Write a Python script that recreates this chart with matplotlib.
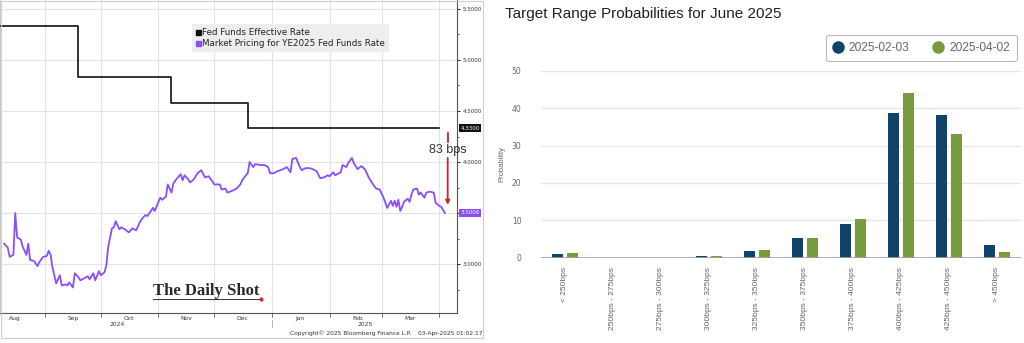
import numpy as np
import pandas as pd
import matplotlib
matplotlib.use("Agg")
import matplotlib.pyplot as plt
import matplotlib.dates as mdates
from matplotlib.ticker import MultipleLocator, NullFormatter, FormatStrFormatter
from matplotlib.lines import Line2D
from matplotlib.patches import Rectangle

# ---- left panel data (days counted from 2024-09-01) ----
base = pd.Timestamp("2024-09-01")
effr_days = [-24, 18, 68, 109, 212]
effr_rate = [5.33, 4.83, 4.58, 4.33, 4.33]

pricing_days = [
    -22, -20, -19, -17, -16, -15, -13, -12, -10, -9,
    -8, -6, -4, -3, -1, 1, 2, 3, 4, 6,
    8, 9, 11, 12, 13, 15, 16, 18, 19, 21,
    23, 24, 26, 27, 29, 30, 32, 33, 34, 36,
    37, 38, 40, 41, 43, 45, 47, 49, 51, 52,
    54, 55, 57, 58, 59, 61, 62, 63, 65, 66,
    68, 69, 71, 73, 74, 75, 77, 78, 80, 82,
    84, 86, 88, 90, 91, 94, 95, 97, 98, 101,
    103, 105, 106, 108, 109, 110, 112, 113, 116, 118,
    120, 121, 123, 125, 128, 130, 132, 133, 135, 137,
    138, 140, 142, 144, 146, 148, 150, 152, 153, 155,
    156, 159, 160, 162, 163, 165, 166, 168, 170, 172,
    174, 176, 178, 180, 182, 183, 184, 186, 187, 188,
    189, 190, 191, 192, 193, 195, 196, 197, 198, 200,
    201, 202, 204, 205, 207, 209, 210, 212, 213, 215,
]
pricing_rate = [
    3.20, 3.16, 3.07, 3.09, 3.50, 3.26, 3.24, 3.17, 3.09, 3.20,
    3.04, 3.03, 2.98, 3.02, 3.07, 3.08, 3.13, 3.09, 2.97, 2.81,
    2.89, 2.79, 2.80, 2.79, 2.82, 2.77, 2.91, 2.87, 2.84, 2.86,
    2.88, 2.85, 2.91, 2.84, 2.93, 2.89, 2.92, 2.99, 3.17, 3.35,
    3.36, 3.42, 3.34, 3.36, 3.34, 3.31, 3.35, 3.33, 3.41, 3.44,
    3.48, 3.47, 3.52, 3.55, 3.52, 3.61, 3.65, 3.63, 3.66, 3.78,
    3.70, 3.79, 3.84, 3.88, 3.82, 3.87, 3.83, 3.80, 3.83, 3.89,
    3.92, 3.85, 3.86, 3.81, 3.78, 3.78, 3.73, 3.74, 3.70, 3.72,
    3.74, 3.78, 3.82, 3.87, 3.89, 4.00, 3.95, 3.98, 3.97, 3.97,
    3.95, 3.89, 3.89, 3.91, 3.93, 3.95, 3.90, 4.03, 4.04, 3.95,
    3.92, 3.94, 3.94, 3.93, 3.91, 3.84, 3.85, 3.87, 3.86, 3.90,
    3.87, 3.90, 3.97, 3.95, 3.99, 4.04, 3.99, 3.93, 3.96, 3.93,
    3.85, 3.79, 3.74, 3.73, 3.65, 3.60, 3.55, 3.62, 3.57, 3.62,
    3.56, 3.63, 3.52, 3.56, 3.61, 3.64, 3.61, 3.68, 3.73, 3.74,
    3.68, 3.70, 3.65, 3.70, 3.71, 3.70, 3.60, 3.57, 3.56, 3.5006,
]

# ---- right panel data ----
ranges = ["< 250bps", "250bps - 275bps", "275bps - 300bps", "300bps - 325bps",
          "325bps - 350bps", "350bps - 375bps", "375bps - 400bps",
          "400bps - 425bps", "425bps - 450bps", "> 450bps"]
prob_feb = [1.0, 0.0, 0.0, 0.5, 1.7, 5.2, 9.0, 38.7, 38.2, 3.4]
prob_apr = [1.3, 0.0, 0.0, 0.5, 2.0, 5.2, 10.3, 44.0, 33.0, 1.6]

W, H = 1024, 343
def fx(px):
    return px / W
def fy(py):
    return 1 - py / H

PURPLE = "#8a4dff"
NAVY = "#0e4469"
OLIVE = "#7a9a3f"

fig = plt.figure(figsize=(W / 100, H / 100), dpi=100)

# ================= left panel =================
ax1 = fig.add_axes([0.0, fy(313), fx(457), 313 / H])
effr_dates = base + pd.to_timedelta(effr_days, unit="D")
pricing_dates = base + pd.to_timedelta(pricing_days, unit="D")

ax1.plot(effr_dates, effr_rate, drawstyle="steps-post", color="#111111", lw=1.2, zorder=3)
ax1.plot(pricing_dates, pricing_rate, color=PURPLE, lw=1.3, zorder=3)

ax1.set_xlim(base - pd.Timedelta(days=24.2), base + pd.Timedelta(days=221.5))
ax1.set_ylim(2.52, 5.588)

ax1.yaxis.tick_right()
ax1.yaxis.set_major_locator(MultipleLocator(0.5))
ax1.yaxis.set_minor_locator(MultipleLocator(0.25))
ax1.yaxis.set_major_formatter(FormatStrFormatter("%.4f"))
ax1.tick_params(axis="y", which="major", length=2.5, width=0.6, labelsize=4,
                labelcolor="#333333", pad=1.5)
ax1.tick_params(axis="y", which="minor", length=1.5, width=0.5)

ax1.xaxis.set_major_locator(mdates.MonthLocator())
ax1.xaxis.set_major_formatter(NullFormatter())
ax1.xaxis.set_minor_locator(mdates.MonthLocator(bymonthday=16))
ax1.xaxis.set_minor_formatter(mdates.DateFormatter("%b"))
ax1.tick_params(axis="x", which="major", length=3, width=0.6, color="#555555")
ax1.tick_params(axis="x", which="minor", length=0, labelsize=4.3,
                labelcolor="#333333", pad=2)

ax1.grid(True, which="major", color="#e2e2e2", lw=0.8, zorder=0)
ax1.spines["top"].set_visible(False)
ax1.spines["left"].set_color("#cccccc")
ax1.spines["right"].set_color("#555555")
ax1.spines["bottom"].set_color("#555555")
for s in ("right", "bottom"):
    ax1.spines[s].set_linewidth(0.8)

handles = [Line2D([], [], ls="none", marker="s", color="#111111", ms=3.6),
           Line2D([], [], ls="none", marker="s", color=PURPLE, ms=3.6)]
leg = ax1.legend(handles, ["Fed Funds Effective Rate",
                           "Market Pricing for YE2025 Fed Funds Rate"],
                 loc="upper left", bbox_to_anchor=(192 / 457, 1 - 24 / 313),
                 fontsize=6.3, frameon=True, facecolor="#eeeeee", edgecolor="none",
                 fancybox=False, framealpha=1, handlelength=0.5, handletextpad=0.2,
                 borderpad=0.45, labelspacing=0.2, borderaxespad=0)
for t in leg.get_texts():
    t.set_color("#222222")

# last-value tags
ax1.annotate(f"{effr_rate[-1]:.4f}", xy=(1.008, effr_rate[-1]),
             xycoords=("axes fraction", "data"), ha="left", va="center",
             fontsize=4, color="white",
             bbox=dict(boxstyle="square,pad=0.25", fc="#111111", ec="none"),
             annotation_clip=False, zorder=5)
ax1.annotate(f"{pricing_rate[-1]:.4f}", xy=(1.008, pricing_rate[-1]),
             xycoords=("axes fraction", "data"), ha="left", va="center",
             fontsize=4, color="white",
             bbox=dict(boxstyle="square,pad=0.25", fc=PURPLE, ec="none"),
             annotation_clip=False, zorder=5)

# gap arrow
gap_bps = round((effr_rate[-1] - pricing_rate[-1]) * 100)
arrow_x = base + pd.Timedelta(days=216.5)
ax1.plot([arrow_x, arrow_x], [effr_rate[-1] - 0.05, effr_rate[-1] - 0.13],
         color="#c62828", lw=1.3, zorder=4)
ax1.annotate("", xy=(arrow_x, pricing_rate[-1] + 0.08),
             xytext=(arrow_x, effr_rate[-1] - 0.29),
             arrowprops=dict(arrowstyle="-|>", color="#c62828", lw=1.3,
                             mutation_scale=6, shrinkA=0, shrinkB=0), zorder=4)
ax1.text(arrow_x, effr_rate[-1] - 0.21, f"{gap_bps} bps", ha="center", va="center",
         fontsize=9, color="#333333", family="Liberation Sans", zorder=5)

# logo
ax1.text(153 / 457, 1 - 291 / 313, "The Daily Shot", ha="left", va="center",
         transform=ax1.transAxes, fontsize=12, family="Liberation Serif",
         weight="bold", color="#2a2a2a", zorder=5)
ax1.plot([153 / 457, 259 / 457], [1 - 298.5 / 313] * 2, transform=ax1.transAxes,
         color="#333333", lw=0.7, zorder=5)
ax1.plot([261 / 457], [1 - 298.5 / 313], transform=ax1.transAxes, marker="o",
         ms=2, color="#d32f2f", zorder=6)

# year labels
ytrans = ax1.get_xaxis_transform()
ax1.text(base + pd.Timedelta(days=39), -0.038, "2024", transform=ytrans,
         ha="center", va="center", fontsize=4.3, color="#333333")
ax1.text(base + pd.Timedelta(days=172), -0.038, "2025", transform=ytrans,
         ha="center", va="center", fontsize=4.3, color="#333333")
ax1.plot([pd.Timestamp("2025-01-01")] * 2, [-0.022, -0.045], transform=ytrans,
         color="#aaaaaa", lw=0.6, clip_on=False)

fig.text(fx(290), fy(333), "Copyright\u00a9 2025 Bloomberg Finance L.P.", ha="left",
         va="center", fontsize=4.2, color="#333333")
fig.text(fx(482), fy(333), "03-Apr-2025 01:02:17", ha="right", va="center",
         fontsize=4.2, color="#333333")

fig.add_artist(Rectangle((fx(0.5), fy(338)), 482 / W, 337.5 / H,
                         transform=fig.transFigure, fill=False,
                         ec="#cfcfcf", lw=0.8))

# ================= right panel =================
ax2 = fig.add_axes([fx(541), fy(257.5), 480 / W, (257.5 - 71) / H])
x = np.arange(len(ranges))
ax2.bar(x - 0.156, prob_feb, width=0.23, color=NAVY, zorder=3)
ax2.bar(x + 0.156, prob_apr, width=0.23, color=OLIVE, zorder=3)
ax2.set_xlim(-0.5, len(ranges) - 0.5)
ax2.set_ylim(0, 50)
ax2.set_yticks(np.arange(0, 51, 10))
ax2.grid(True, axis="y", color="#e6e6e6", lw=0.9, zorder=0)
ax2.axhline(0, color="#a0a0a0", lw=1.2, zorder=4)
for s in ax2.spines.values():
    s.set_visible(False)
ax2.tick_params(axis="y", length=0, labelsize=5.5, labelcolor="#666666", pad=14)
ax2.set_xticks(x)
ax2.set_xticklabels(ranges, rotation=90, fontsize=6, color="#666666",
                    family="Liberation Sans")
ax2.tick_params(axis="x", length=0, pad=7)
ax2.set_ylabel("Probability", fontsize=5.5, color="#666666", family="Liberation Sans")
ax2.yaxis.set_label_coords((505 - 541) / 480, 0.5)

fig.text(fx(505), fy(14), "Target Range Probabilities for June 2025", ha="left",
         va="center", fontsize=11, color="#222222", family="Liberation Sans")

leg2 = fig.legend([Line2D([], [], ls="none", marker="o", color=NAVY, ms=8),
                   Line2D([], [], ls="none", marker="o", color=OLIVE, ms=8)],
                  ["2025-02-03", "2025-04-02"], loc="center",
                  bbox_to_anchor=(fx((827 + 1016) / 2), fy(48)), ncol=2,
                  fontsize=8.6, frameon=True, fancybox=True, edgecolor="#aaaaaa",
                  handlelength=0.8, handletextpad=0.5, columnspacing=2.0,
                  borderpad=0.6)
leg2.get_frame().set_linewidth(0.8)
for t in leg2.get_texts():
    t.set_color("#666666")
    t.set_family("Liberation Sans")

fig.savefig("out.png", dpi=100)
